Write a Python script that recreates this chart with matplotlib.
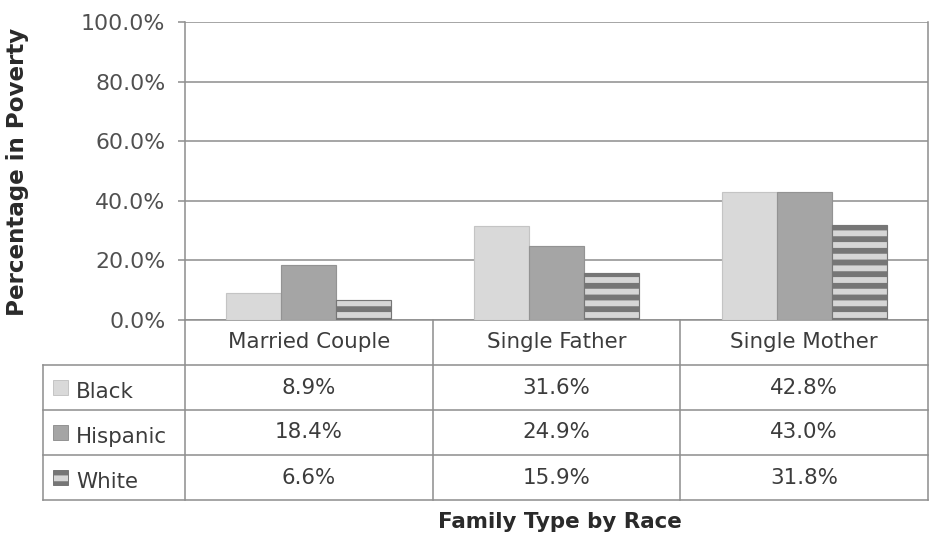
import matplotlib
matplotlib.use("Agg")
import matplotlib.pyplot as plt
from matplotlib.patches import Rectangle

# data
categories = ["Married Couple", "Single Father", "Single Mother"]
races = ["Black", "Hispanic", "White"]
black = [8.9, 31.6, 42.8]
hispanic = [18.4, 24.9, 43.0]
white = [6.6, 15.9, 31.8]
y_ticks = [0, 20, 40, 60, 80, 100]

# styles per race (face, edge, hatch)
styles = [
    {"facecolor": "#d9d9d9", "edgecolor": "#c4c4c4", "hatch": None},
    {"facecolor": "#a5a5a5", "edgecolor": "#939393", "hatch": None},
    {"facecolor": "#d6d6d6", "edgecolor": "#767676", "hatch": "--"},
]

DPI = 140
W, H = 932, 540
plt.rcParams["font.family"] = ["DejaVu Sans"]
plt.rcParams["hatch.linewidth"] = 3.0

# layout in pixels
plot_l, plot_r, plot_t, plot_b = 185, 928, 22, 320
table_l, table_b = 43, 500
grid_col = "#8f8f8f"
text_col = "#3c3c3c"

fig = plt.figure(figsize=(W / DPI, H / DPI), dpi=DPI)
ax = fig.add_axes([plot_l / W, 1 - plot_b / H, (plot_r - plot_l) / W, (plot_b - plot_t) / H])

series = [black, hispanic, white]
bar_w = 0.222
for k, vals in enumerate(series):
    xs = [i + (k - 1) * bar_w for i in range(len(categories))]
    st = styles[k]
    ax.bar(xs, vals, width=bar_w, facecolor=st["facecolor"], edgecolor=st["edgecolor"],
           hatch=st["hatch"], linewidth=0.6, zorder=3)

ax.set_xlim(-0.5, len(categories) - 0.5)
ax.set_ylim(0, 100)
ax.set_yticks(y_ticks)
ax.set_yticklabels(["{:.1f}%".format(t) for t in y_ticks])
ax.set_xticks([])
ax.tick_params(axis="y", length=3.6, width=0.8, color=grid_col, pad=6.5,
               labelsize=11.3, labelcolor="#505050")
ax.grid(axis="y", color=grid_col, linewidth=0.8, zorder=0)
ax.set_axisbelow(True)
for s in ax.spines.values():
    s.set_color(grid_col)
    s.set_linewidth(0.8)
ax.spines["top"].set_visible(False)

# data table under the plot
ax_t = fig.add_axes([table_l / W, 1 - table_b / H, (plot_r - table_l) / W, (table_b - plot_b) / H])
units_per_px = len(categories) / (plot_r - plot_l)
x_min = -0.5 - (plot_l - table_l) * units_per_px
x_max = len(categories) - 0.5
n_rows = len(races) + 1
ax_t.set_xlim(x_min, x_max)
ax_t.set_ylim(n_rows, 0)
ax_t.axis("off")

lw = 0.8
for r in range(1, n_rows + 1):
    ax_t.plot([x_min, x_max], [r, r], color=grid_col, lw=lw, clip_on=False)
for c in range(len(categories) + 1):
    ax_t.plot([c - 0.5, c - 0.5], [0, n_rows], color=grid_col, lw=lw, clip_on=False)
ax_t.plot([x_min, x_min], [1, n_rows], color=grid_col, lw=lw, clip_on=False)

for i, cat in enumerate(categories):
    ax_t.text(i, 0.5, cat, ha="center", va="center", fontsize=11, color=text_col)

sq = 15 * units_per_px
for k, (race, vals) in enumerate(zip(races, series)):
    r = k + 1
    st = styles[k]
    ax_t.add_patch(Rectangle((x_min + 10 * units_per_px, r + 0.5 - 0.16), sq, 0.32,
                             facecolor=st["facecolor"], edgecolor=st["edgecolor"],
                             hatch=st["hatch"], linewidth=0.5, clip_on=False))
    ax_t.text(x_min + 33 * units_per_px, r + 0.6, race, ha="left", va="center",
              fontsize=11, color=text_col)
    for i, v in enumerate(vals):
        ax_t.text(i, r + 0.5, "{:.1f}%".format(v), ha="center", va="center",
                  fontsize=11, color=text_col)

fig.text(18 / W, 1 - 172 / H, "Percentage in Poverty", rotation=90, ha="center", va="center",
         fontsize=11.8, fontweight="bold", color="#2a2a2a")
fig.text(560 / W, 1 - 522 / H, "Family Type by Race", ha="center", va="center",
         fontsize=11, fontweight="bold", color="#2a2a2a")

fig.savefig("out.png", dpi=DPI, facecolor="white")
